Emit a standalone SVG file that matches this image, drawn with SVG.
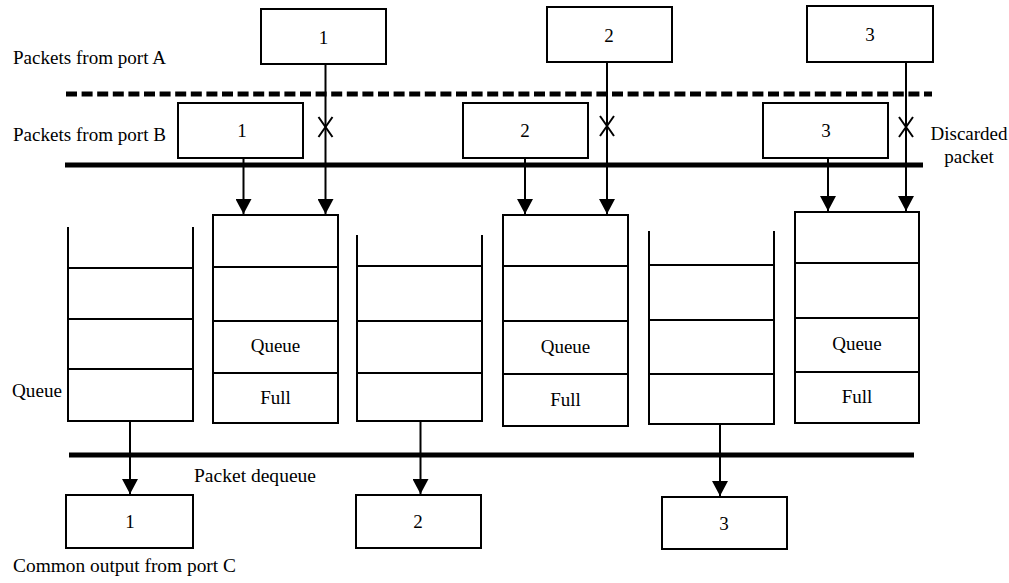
<svg xmlns="http://www.w3.org/2000/svg" width="1009" height="583" viewBox="0 0 1009 583">
<style>
.box{fill:#fff;stroke:#000;stroke-width:2}
.ln{stroke:#000;stroke-width:2;fill:none}
.bar{stroke:#000;stroke-width:5;fill:none}
.dash{stroke:#000;stroke-width:5;fill:none;stroke-dasharray:11 4.6}
text{font-family:"Liberation Serif","Times New Roman",serif;fill:#000}
.num{font-size:19px;text-anchor:middle}
.lbl{font-size:18px}
.in{font-size:19px;text-anchor:middle}
</style>
<defs>
<marker id="arr" markerUnits="userSpaceOnUse" markerWidth="16" markerHeight="16" refX="15" refY="8" orient="auto">
<path d="M0,0 L15,8 L0,16 Z" fill="#000"/>
</marker>
</defs>
<rect width="1009" height="583" fill="#fff"/>

<g id="labels">
<text class="lbl" x="13" y="64" textLength="153" lengthAdjust="spacingAndGlyphs">Packets from port A</text>
<text class="lbl" x="13" y="141" textLength="153" lengthAdjust="spacingAndGlyphs">Packets from port B</text>
<text class="lbl" x="12" y="397" textLength="50" lengthAdjust="spacingAndGlyphs">Queue</text>
<text class="lbl" x="194" y="482" textLength="122" lengthAdjust="spacingAndGlyphs">Packet dequeue</text>
<text class="lbl" x="13" y="572" textLength="223" lengthAdjust="spacingAndGlyphs">Common output from port C</text>
<text class="in" x="969" y="140">Discarded</text>
<text class="in" x="969" y="163">packet</text>
</g>

<g id="bars">
<line class="dash" x1="66" y1="94" x2="932" y2="94"/>
<line class="bar" x1="65" y1="165" x2="923" y2="165"/>
<line class="bar" x1="69" y1="455" x2="914" y2="455"/>
</g>

<g id="connectors">
<line class="ln" x1="325.5" y1="64" x2="325.5" y2="214" marker-end="url(#arr)"/>
<line class="ln" x1="607" y1="62" x2="607" y2="214" marker-end="url(#arr)"/>
<line class="ln" x1="906" y1="62" x2="906" y2="211" marker-end="url(#arr)"/>
<line class="ln" x1="243.5" y1="158" x2="243.5" y2="214" marker-end="url(#arr)"/>
<line class="ln" x1="525" y1="158" x2="525" y2="214" marker-end="url(#arr)"/>
<line class="ln" x1="828" y1="158" x2="828" y2="211" marker-end="url(#arr)"/>
<line class="ln" x1="130" y1="421" x2="130" y2="494" marker-end="url(#arr)"/>
<line class="ln" x1="420.5" y1="421" x2="420.5" y2="494" marker-end="url(#arr)"/>
<line class="ln" x1="720" y1="424" x2="720" y2="496" marker-end="url(#arr)"/>
<path class="ln" d="M318.5,117 L332.5,137 M332.5,117 L318.5,137"/>
<path class="ln" d="M600,116 L614,136 M614,116 L600,136"/>
<path class="ln" d="M899,117 L913,137 M913,117 L899,137"/>
</g>

<g id="portA-1"><rect class="box" x="261" y="9" width="125" height="55"/><text class="num" x="323.5" y="44">1</text></g>
<g id="portA-2"><rect class="box" x="547" y="7" width="125" height="55"/><text class="num" x="609" y="42">2</text></g>
<g id="portA-3"><rect class="box" x="807" y="6" width="126" height="56"/><text class="num" x="870" y="41">3</text></g>

<g id="portB-1"><rect class="box" x="178" y="103" width="125" height="55"/><text class="num" x="242" y="137">1</text></g>
<g id="portB-2"><rect class="box" x="463" y="103" width="125" height="55"/><text class="num" x="525" y="137">2</text></g>
<g id="portB-3"><rect class="box" x="763" y="103" width="125" height="55"/><text class="num" x="826" y="137">3</text></g>

<g id="queue-open-1">
<path class="ln" d="M68,227 L68,421 L193,421 L193,227"/>
<line class="ln" x1="68" y1="268" x2="193" y2="268"/>
<line class="ln" x1="68" y1="319" x2="193" y2="319"/>
<line class="ln" x1="68" y1="369" x2="193" y2="369"/>
</g>
<g id="queue-full-1">
<rect class="box" x="213" y="215" width="125" height="208"/>
<line class="ln" x1="213" y1="267" x2="338" y2="267"/>
<line class="ln" x1="213" y1="321" x2="338" y2="321"/>
<line class="ln" x1="213" y1="373" x2="338" y2="373"/>
<text class="in" x="275.5" y="352">Queue</text>
<text class="in" x="275.5" y="404">Full</text>
</g>
<g id="queue-open-2">
<path class="ln" d="M357,235 L357,421 L482,421 L482,235"/>
<line class="ln" x1="357" y1="266" x2="482" y2="266"/>
<line class="ln" x1="357" y1="321" x2="482" y2="321"/>
<line class="ln" x1="357" y1="373" x2="482" y2="373"/>
</g>
<g id="queue-full-2">
<rect class="box" x="503" y="215" width="125" height="211"/>
<line class="ln" x1="503" y1="266" x2="628" y2="266"/>
<line class="ln" x1="503" y1="321" x2="628" y2="321"/>
<line class="ln" x1="503" y1="374" x2="628" y2="374"/>
<text class="in" x="565.5" y="353">Queue</text>
<text class="in" x="565.5" y="406">Full</text>
</g>
<g id="queue-open-3">
<path class="ln" d="M649,231 L649,424 L774,424 L774,231"/>
<line class="ln" x1="649" y1="265" x2="774" y2="265"/>
<line class="ln" x1="649" y1="320" x2="774" y2="320"/>
<line class="ln" x1="649" y1="374" x2="774" y2="374"/>
</g>
<g id="queue-full-3">
<rect class="box" x="795" y="212" width="124" height="211"/>
<line class="ln" x1="795" y1="263" x2="919" y2="263"/>
<line class="ln" x1="795" y1="318" x2="919" y2="318"/>
<line class="ln" x1="795" y1="372" x2="919" y2="372"/>
<text class="in" x="857" y="350">Queue</text>
<text class="in" x="857" y="403">Full</text>
</g>

<g id="portC-1"><rect class="box" x="66" y="495" width="127" height="53"/><text class="num" x="130" y="528">1</text></g>
<g id="portC-2"><rect class="box" x="356" y="495" width="125" height="53"/><text class="num" x="418" y="528">2</text></g>
<g id="portC-3"><rect class="box" x="662" y="497" width="125" height="52"/><text class="num" x="724" y="530">3</text></g>
</svg>
